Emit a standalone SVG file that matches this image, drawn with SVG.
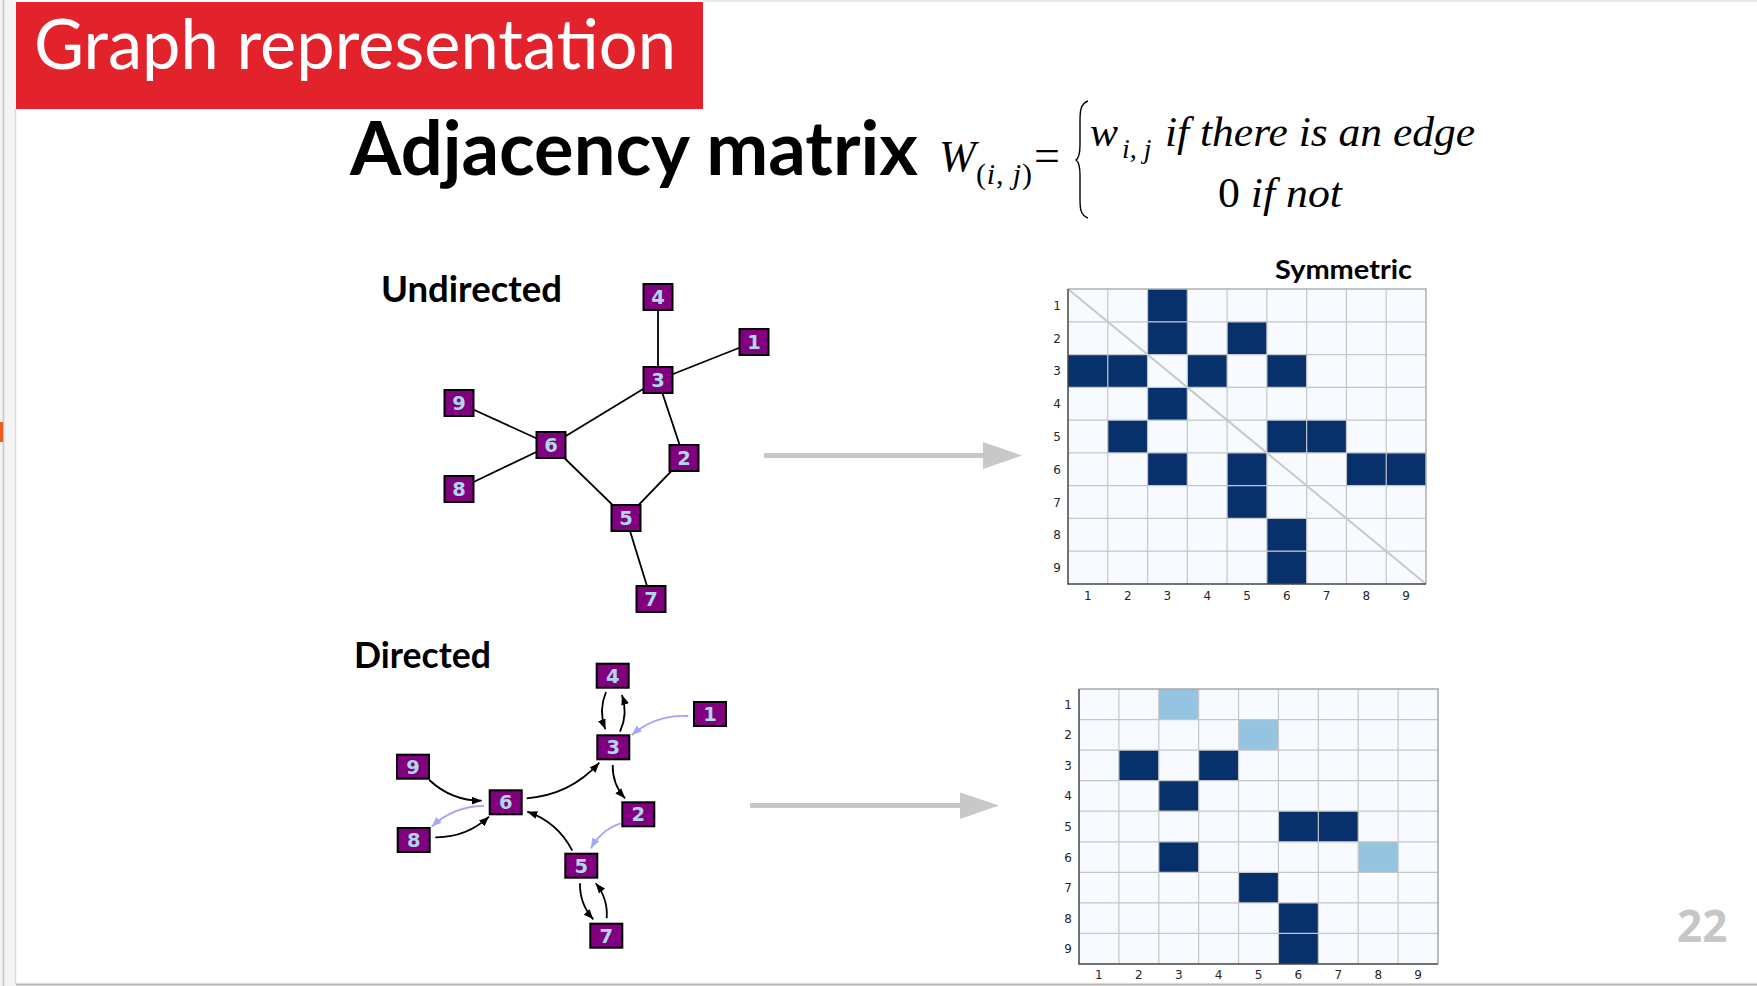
<svg xmlns="http://www.w3.org/2000/svg" width="1757" height="986" viewBox="0 0 1757 986">
<defs>
<style>
.node rect{fill:#800080;stroke:#000;stroke-width:2}
.node text{font-family:"DejaVu Sans",sans-serif;font-weight:bold;font-size:19.5px;fill:#add8e6;text-anchor:middle}
.ue{stroke:#000;stroke-width:1.8;fill:none}
.de{stroke:#000;stroke-width:1.8;fill:none;marker-end:url(#ah)}
.dl{stroke:#a6a6f7;stroke-width:1.8;fill:none;marker-end:url(#ahl)}
.tick{font-family:"DejaVu Sans",sans-serif;font-size:12px;fill:#262626;text-anchor:middle}
.cell{fill:#08306b}
.lcell{fill:#94c4df}
.grid{stroke:#c4c6c9;stroke-width:1.2;fill:none}
.head{font-family:Lato,"Liberation Sans",sans-serif;font-weight:bold;fill:#000}
.math{font-family:"Liberation Serif",serif;font-style:italic;fill:#000}
</style>
<marker id="ah" viewBox="0 0 10 8" markerUnits="userSpaceOnUse" markerWidth="10" markerHeight="8" refX="10" refY="4" orient="auto"><path d="M0,0 L10,4 L0,8 z" fill="#000"/></marker>
<marker id="ahl" viewBox="0 0 10 8" markerUnits="userSpaceOnUse" markerWidth="10" markerHeight="8" refX="10" refY="4" orient="auto"><path d="M0,0 L10,4 L0,8 z" fill="#a6a6f7"/></marker>
</defs>
<rect x="0" y="0" width="1757" height="986" fill="#fff"/>
<!-- window frame -->
<rect x="0" y="0" width="16" height="986" fill="#f4f4f4"/>
<line x1="3.5" y1="0" x2="3.5" y2="986" stroke="#c4c4c4" stroke-width="1.5"/>
<line x1="15.5" y1="109" x2="15.5" y2="984" stroke="#d9d9d9" stroke-width="1.5"/>
<rect x="0" y="422" width="3" height="20" fill="#f05a28"/>
<line x1="703" y1="1" x2="1757" y2="1" stroke="#e2e2e2" stroke-width="1.5"/>
<line x1="16" y1="984.5" x2="1757" y2="984.5" stroke="#b4b4b4" stroke-width="2"/>

<!-- title -->
<g id="title">
<rect x="16" y="2" width="687" height="107" fill="#e3232b"/>
<text x="34" y="69" font-family="Lato,'Liberation Sans',sans-serif" font-size="70" fill="#fff" textLength="642" lengthAdjust="spacingAndGlyphs">Graph representation</text>
</g>
<g id="heading">
<text class="head" x="350" y="175" font-size="74" textLength="568" lengthAdjust="spacingAndGlyphs">Adjacency matrix</text>
</g>
<g id="formula">
<text class="math" x="939" y="171" font-size="44">W</text>
<text x="976" y="184" font-family="'Liberation Serif',serif" font-size="30" textLength="56" lengthAdjust="spacing">(<tspan font-style="italic">i</tspan>, <tspan font-style="italic">j</tspan>)</text>
<text x="1034" y="171" font-family="'Liberation Serif',serif" font-size="46">=</text>
<path d="M1088,101 C1080,104 1080,112 1080,122 L1080,145 C1080,154 1079,158 1076,160 C1079,162 1080,166 1080,175 L1080,198 C1080,208 1080,215 1088,218" fill="none" stroke="#000" stroke-width="1.4"/>
<text class="math" x="1090" y="146" font-size="42">w</text>
<text class="math" x="1122" y="158" font-size="28">i<tspan font-style="normal">,</tspan> j</text>
<text class="math" x="1165" y="146" font-size="43" textLength="310" lengthAdjust="spacingAndGlyphs">if there is an edge</text>
<text x="1218" y="207" font-family="'Liberation Serif',serif" font-size="43" textLength="124" lengthAdjust="spacingAndGlyphs">0 <tspan font-style="italic">if not</tspan></text>
</g>

<g id="labels">
<text class="head" x="381" y="302" font-size="37" textLength="181" lengthAdjust="spacingAndGlyphs">Undirected</text>
<text class="head" x="1275" y="279" font-size="27" textLength="137" lengthAdjust="spacingAndGlyphs">Symmetric</text>
<text class="head" x="354" y="668" font-size="36" textLength="137" lengthAdjust="spacingAndGlyphs">Directed</text>
<text x="1677" y="942" font-family="'Open Sans','Liberation Sans',sans-serif" font-weight="bold" font-size="44" fill="#c6c6c6">22</text>
</g>

<!-- connectors -->
<g id="connectors">
<g id="undirected-edges">
<line class="ue" x1="658" y1="297" x2="658" y2="380"/>
<line class="ue" x1="754" y1="342" x2="658" y2="380"/>
<line class="ue" x1="658" y1="380" x2="551" y2="445"/>
<line class="ue" x1="658" y1="380" x2="684" y2="458"/>
<line class="ue" x1="459" y1="403" x2="551" y2="445"/>
<line class="ue" x1="459" y1="489" x2="551" y2="445"/>
<line class="ue" x1="551" y1="445" x2="626" y2="518"/>
<line class="ue" x1="684" y1="458" x2="626" y2="518"/>
<line class="ue" x1="626" y1="518" x2="651" y2="599"/>
</g>
<g id="directed-edges">
<path class="de" d="M606,692 Q598.2,710.5 605.3,729.3"/>
<path class="de" d="M620,731.7 Q628.3,713.8 622,695"/>
<path class="dl" d="M688.3,716 Q656.2,714.2 631.7,735"/>
<path class="de" d="M612.7,765 Q612.2,784.1 625,798.3"/>
<path class="dl" d="M620.7,823.3 Q600.85,829.9 591,848.3"/>
<path class="de" d="M572.3,850.7 Q557.6,822.2 527.3,811.7"/>
<path class="de" d="M526.7,798.3 Q570.1,795 599.3,762.7"/>
<path class="de" d="M429.3,780 Q451.4,800.8 481.7,800.7"/>
<path class="dl" d="M484,806 Q453.7,805.9 431.7,826.7"/>
<path class="de" d="M435.3,837.3 Q466.3,837.7 489,816.7"/>
<path class="de" d="M580,883.3 Q579.5,904 593.3,919.3"/>
<path class="de" d="M606.7,918.3 Q608.2,898.6 595.7,883.3"/>
</g>
<g id="big-arrows">
<line x1="764" y1="455.5" x2="986" y2="455.5" stroke="#c8c8c8" stroke-width="5"/>
<polygon points="983,442 1022,455.5 983,469" fill="#c8c8c8"/>
<line x1="750" y1="805.5" x2="962" y2="805.5" stroke="#c8c8c8" stroke-width="5"/>
<polygon points="960,792.5 999,805.5 960,819" fill="#c8c8c8"/>
</g>
</g>

<!-- undirected nodes -->
<g id="u-node-4" class="node"><rect x="643.5" y="284" width="29" height="26"/><text x="658" y="304">4</text></g>
<g id="u-node-1" class="node"><rect x="739.5" y="329" width="29" height="26"/><text x="754" y="349">1</text></g>
<g id="u-node-3" class="node"><rect x="643.5" y="367" width="29" height="26"/><text x="658" y="387">3</text></g>
<g id="u-node-9" class="node"><rect x="444.5" y="390" width="29" height="26"/><text x="459" y="410">9</text></g>
<g id="u-node-6" class="node"><rect x="536.5" y="432" width="29" height="26"/><text x="551" y="452">6</text></g>
<g id="u-node-2" class="node"><rect x="669.5" y="445" width="29" height="26"/><text x="684" y="465">2</text></g>
<g id="u-node-8" class="node"><rect x="444.5" y="476" width="29" height="26"/><text x="459" y="496">8</text></g>
<g id="u-node-5" class="node"><rect x="611.5" y="505" width="29" height="26"/><text x="626" y="525">5</text></g>
<g id="u-node-7" class="node"><rect x="636.5" y="586" width="29" height="26"/><text x="651" y="606">7</text></g>

<!-- directed nodes -->
<g id="d-node-4" class="node"><rect x="596.7" y="663.7" width="32" height="24"/><text x="612.7" y="682.8">4</text></g>
<g id="d-node-1" class="node"><rect x="694" y="702" width="32" height="24"/><text x="710" y="721.1">1</text></g>
<g id="d-node-3" class="node"><rect x="597.3" y="735.3" width="32" height="24"/><text x="613.3" y="754.4">3</text></g>
<g id="d-node-9" class="node"><rect x="397" y="754.7" width="32" height="24"/><text x="413" y="773.8">9</text></g>
<g id="d-node-6" class="node"><rect x="489.7" y="790.3" width="32" height="24"/><text x="505.7" y="809.4">6</text></g>
<g id="d-node-2" class="node"><rect x="622.3" y="802.3" width="32" height="24"/><text x="638.3" y="821.4">2</text></g>
<g id="d-node-8" class="node"><rect x="397.7" y="828" width="32" height="24"/><text x="413.7" y="847.1">8</text></g>
<g id="d-node-5" class="node"><rect x="565.3" y="853.7" width="32" height="24"/><text x="581.3" y="872.8">5</text></g>
<g id="d-node-7" class="node"><rect x="590.3" y="923.7" width="32" height="24"/><text x="606.3" y="942.8">7</text></g>

<!-- undirected matrix -->
<g id="matrix-undirected">
<rect x="1068" y="289" width="358" height="295" fill="#f7fbff"/>
<rect class="cell" x="1147.56" y="289" width="39.78" height="32.78"/>
<rect class="cell" x="1147.56" y="321.78" width="39.78" height="32.78"/>
<rect class="cell" x="1227.11" y="321.78" width="39.78" height="32.78"/>
<rect class="cell" x="1068" y="354.56" width="39.78" height="32.78"/>
<rect class="cell" x="1107.78" y="354.56" width="39.78" height="32.78"/>
<rect class="cell" x="1187.33" y="354.56" width="39.78" height="32.78"/>
<rect class="cell" x="1266.89" y="354.56" width="39.78" height="32.78"/>
<rect class="cell" x="1147.56" y="387.33" width="39.78" height="32.78"/>
<rect class="cell" x="1107.78" y="420.11" width="39.78" height="32.78"/>
<rect class="cell" x="1266.89" y="420.11" width="39.78" height="32.78"/>
<rect class="cell" x="1306.67" y="420.11" width="39.78" height="32.78"/>
<rect class="cell" x="1147.56" y="452.89" width="39.78" height="32.78"/>
<rect class="cell" x="1227.11" y="452.89" width="39.78" height="32.78"/>
<rect class="cell" x="1346.44" y="452.89" width="39.78" height="32.78"/>
<rect class="cell" x="1386.22" y="452.89" width="39.78" height="32.78"/>
<rect class="cell" x="1227.11" y="485.67" width="39.78" height="32.78"/>
<rect class="cell" x="1266.89" y="518.44" width="39.78" height="32.78"/>
<rect class="cell" x="1266.89" y="551.22" width="39.78" height="32.78"/>
<path class="grid" d="M1107.78,289V584M1147.56,289V584M1187.33,289V584M1227.11,289V584M1266.89,289V584M1306.67,289V584M1346.44,289V584M1386.22,289V584M1068,321.78H1426M1068,354.56H1426M1068,387.33H1426M1068,420.11H1426M1068,452.89H1426M1068,485.67H1426M1068,518.44H1426M1068,551.22H1426"/>
<line x1="1068" y1="289" x2="1426" y2="584" stroke="#c8c8c8" stroke-width="2"/>
<path d="M1068,289H1426V584" fill="none" stroke="#b0b0b0" stroke-width="1.5"/>
<path d="M1068,289V584H1426" fill="none" stroke="#444" stroke-width="1.5"/>
<g class="tick">
<text x="1057" y="309.8">1</text><text x="1057" y="342.6">2</text><text x="1057" y="375.3">3</text><text x="1057" y="408.1">4</text><text x="1057" y="440.9">5</text><text x="1057" y="473.7">6</text><text x="1057" y="506.5">7</text><text x="1057" y="539.2">8</text><text x="1057" y="572">9</text>
<text x="1087.9" y="600">1</text><text x="1127.7" y="600">2</text><text x="1167.4" y="600">3</text><text x="1207.2" y="600">4</text><text x="1247" y="600">5</text><text x="1286.8" y="600">6</text><text x="1326.6" y="600">7</text><text x="1366.3" y="600">8</text><text x="1406.1" y="600">9</text>
</g>
</g>

<!-- directed matrix -->
<g id="matrix-directed">
<rect x="1079" y="689" width="359" height="275" fill="#f7fbff"/>
<rect class="lcell" x="1158.78" y="689" width="39.89" height="30.56"/>
<rect class="lcell" x="1238.56" y="719.56" width="39.89" height="30.56"/>
<rect class="cell" x="1118.89" y="750.11" width="39.89" height="30.56"/>
<rect class="cell" x="1198.67" y="750.11" width="39.89" height="30.56"/>
<rect class="cell" x="1158.78" y="780.67" width="39.89" height="30.56"/>
<rect class="cell" x="1278.44" y="811.22" width="39.89" height="30.56"/>
<rect class="cell" x="1318.33" y="811.22" width="39.89" height="30.56"/>
<rect class="cell" x="1158.78" y="841.78" width="39.89" height="30.56"/>
<rect class="lcell" x="1358.22" y="841.78" width="39.89" height="30.56"/>
<rect class="cell" x="1238.56" y="872.33" width="39.89" height="30.56"/>
<rect class="cell" x="1278.44" y="902.89" width="39.89" height="30.56"/>
<rect class="cell" x="1278.44" y="933.44" width="39.89" height="30.56"/>
<path class="grid" d="M1118.89,689V964M1158.78,689V964M1198.67,689V964M1238.56,689V964M1278.44,689V964M1318.33,689V964M1358.22,689V964M1398.11,689V964M1079,719.56H1438M1079,750.11H1438M1079,780.67H1438M1079,811.22H1438M1079,841.78H1438M1079,872.33H1438M1079,902.89H1438M1079,933.44H1438"/>
<path d="M1079,689H1438V964" fill="none" stroke="#a8a8a8" stroke-width="1.5"/>
<path d="M1079,689V964H1438" fill="none" stroke="#444" stroke-width="1.5"/>
<g class="tick">
<text x="1068" y="708.7">1</text><text x="1068" y="739.2">2</text><text x="1068" y="769.8">3</text><text x="1068" y="800.3">4</text><text x="1068" y="830.9">5</text><text x="1068" y="861.5">6</text><text x="1068" y="892">7</text><text x="1068" y="922.6">8</text><text x="1068" y="953.1">9</text>
<text x="1098.9" y="978.5">1</text><text x="1138.8" y="978.5">2</text><text x="1178.7" y="978.5">3</text><text x="1218.6" y="978.5">4</text><text x="1258.5" y="978.5">5</text><text x="1298.4" y="978.5">6</text><text x="1338.3" y="978.5">7</text><text x="1378.2" y="978.5">8</text><text x="1418.1" y="978.5">9</text>
</g>
</g>
</svg>
